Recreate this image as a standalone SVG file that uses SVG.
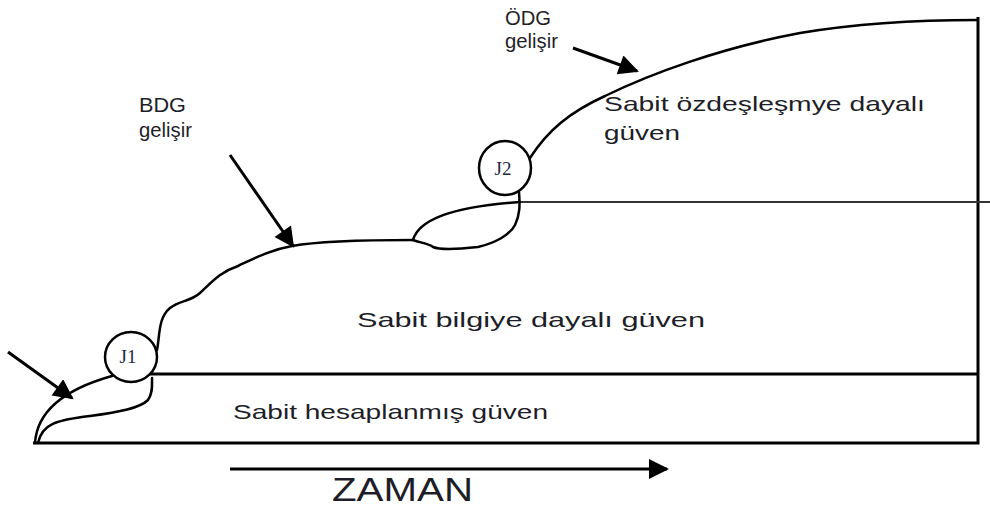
<svg xmlns="http://www.w3.org/2000/svg" width="990" height="508" viewBox="0 0 990 508">
  <style>
    .frame { fill: none; stroke: #000; stroke-width: 3; }
    .thin { fill: none; stroke: #333; stroke-width: 2; }
    .curve { fill: none; stroke: #000; stroke-width: 2.5; stroke-linejoin: round; stroke-linecap: round; }
    .arrow { fill: none; stroke: #000; stroke-width: 3; }
    .node { fill: #fff; stroke: #000; stroke-width: 2.5; }
    .lbl { font-family: "Liberation Sans", Arial, sans-serif; fill: #1e1e28; }
    .jl { font-family: "Liberation Serif", "Times New Roman", serif; font-size: 19px; fill: #1c2a48; text-anchor: middle; }
  </style>
  <defs>
    <marker id="head" viewBox="0 0 10 10" refX="9" refY="5" markerWidth="22" markerHeight="20" markerUnits="userSpaceOnUse" orient="auto">
      <path d="M0,0 L10,5 L0,10 Z" fill="#000"/>
    </marker>
    <marker id="headTime" viewBox="0 0 10 10" refX="9" refY="5" markerWidth="26" markerHeight="20" markerUnits="userSpaceOnUse" orient="auto">
      <path d="M0,0 L10,5 L0,10 Z" fill="#000"/>
    </marker>
  </defs>

  <!-- frame and level lines -->
  <g id="frame">
    <path class="frame" d="M33,443 H978 V17"/>
    <path class="frame" d="M150,374 H978"/>
    <path class="thin" d="M520,202 H990"/>
  </g>

  <g id="connectors">
    <!-- calculated trust rise and loop into J1 -->
    <path class="curve" d="M35,443 C37,412 62,390 112,376"/>
    <path class="curve" d="M38,443 C42,424 56,420 90,416 C120,412 140,408 148,400 C153,393 152,385 152,378"/>
    <!-- knowledge trust rise from J1 to J2 -->
    <path class="curve" d="M157,350 C160,335 158,318 170,308 C180,300 190,302 200,293 C212,282 220,272 238,266 C255,258 270,250 292,246 C320,241 370,240 413,240"/>
    <path class="curve" d="M413,240 C420,243 428,243 433,247 C440,250 460,249 478,247 C495,243 510,235 515,225 C520,215 520,205 519,192"/>
    <path class="curve" d="M413,240 C418,222 445,207 520,202"/>
    <!-- identification trust rise from J2 -->
    <path class="curve" d="M530,158 C548,130 570,112 605,96 C650,74 720,48 800,33 C860,23 920,20 977,20"/>
    <!-- pointer arrows -->
    <line class="arrow" x1="8" y1="352" x2="72" y2="398" marker-end="url(#head)"/>
    <line class="arrow" x1="230" y1="155" x2="293" y2="246" marker-end="url(#head)"/>
    <line class="arrow" x1="573" y1="48" x2="637" y2="71" marker-end="url(#head)"/>
    <line class="arrow" x1="230" y1="469" x2="667" y2="469" marker-end="url(#headTime)"/>
  </g>

  <g id="J1">
    <ellipse class="node" cx="131" cy="357" rx="26" ry="25"/>
    <text class="jl" x="128" y="363">J1</text>
  </g>
  <g id="J2">
    <ellipse class="node" cx="505" cy="168" rx="26" ry="27"/>
    <text class="jl" x="503" y="175">J2</text>
  </g>

  <g id="labels">
    <text class="lbl" x="505" y="25" font-size="21" textLength="46" lengthAdjust="spacingAndGlyphs">ÖDG</text>
    <text class="lbl" x="505" y="48" font-size="21" textLength="53" lengthAdjust="spacingAndGlyphs">gelişir</text>
    <text class="lbl" x="139" y="112" font-size="21" textLength="47" lengthAdjust="spacingAndGlyphs">BDG</text>
    <text class="lbl" x="139" y="137" font-size="21" textLength="53" lengthAdjust="spacingAndGlyphs">gelişir</text>
    <text class="lbl" x="604" y="111" font-size="21" textLength="321" lengthAdjust="spacingAndGlyphs">Sabit özdeşleşmye dayalı</text>
    <text class="lbl" x="604" y="140" font-size="21" textLength="76" lengthAdjust="spacingAndGlyphs">güven</text>
    <text class="lbl" x="357" y="327" font-size="21" textLength="348" lengthAdjust="spacingAndGlyphs">Sabit bilgiye dayalı güven</text>
    <text class="lbl" x="233" y="419" font-size="21" textLength="315" lengthAdjust="spacingAndGlyphs">Sabit hesaplanmış güven</text>
    <text class="lbl" x="332" y="501" font-size="33" textLength="141" lengthAdjust="spacingAndGlyphs">ZAMAN</text>
  </g>
</svg>
